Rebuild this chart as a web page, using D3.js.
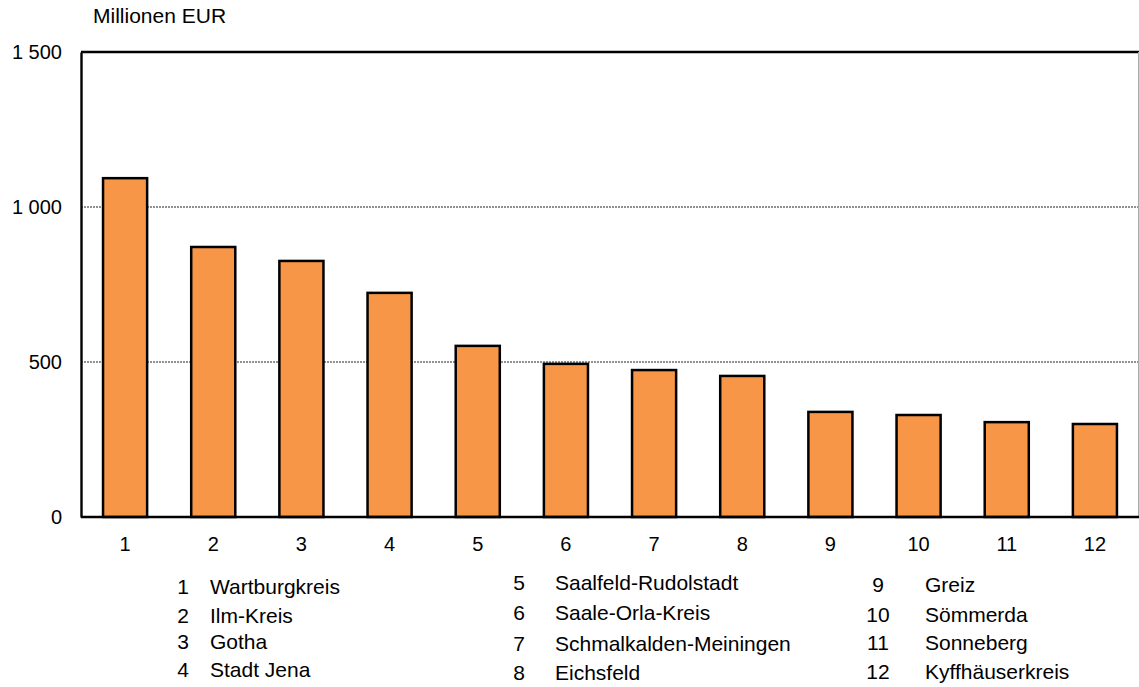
<!DOCTYPE html>
<html>
<head>
<meta charset="utf-8">
<script src="https://cdn.jsdelivr.net/npm/d3@7"></script>
<style>
  html, body { margin: 0; padding: 0; background: #fff; }
  svg { display: block; font-family: "Liberation Sans", Arial, sans-serif; }
</style>
</head>
<body>
<svg id="chart" width="1139" height="687"></svg>
<script>
// ---- data ----
const categories = ["1","2","3","4","5","6","7","8","9","10","11","12"];
const values = [1093, 871, 826, 723, 552, 494, 474, 455, 339, 329, 306, 300];
const names = ["Wartburgkreis","Ilm-Kreis","Gotha","Stadt Jena","Saalfeld-Rudolstadt","Saale-Orla-Kreis","Schmalkalden-Meiningen","Eichsfeld","Greiz","Sömmerda","Sonneberg","Kyffhäuserkreis"];
const yTicks = [0, 500, 1000, 1500];
const yTickLabels = ["0", "500", "1 000", "1 500"];
const unitLabel = "Millionen EUR";

// ---- layout ----
const svg = d3.select("#chart");
const pLeft = 81, pRight = 1139, pTop = 52, pBottom = 517;

const x = d3.scaleBand().domain(categories).range([pLeft, pRight]).paddingInner(0.5).paddingOuter(0.25);
const y = d3.scaleLinear().domain([0, 1500]).range([pBottom, pTop]);

// gridlines
svg.append("g").selectAll("line")
  .data(yTicks.filter(t => t > 0 && t < 1500))
  .join("line")
  .attr("x1", pLeft).attr("x2", pRight)
  .attr("y1", d => y(d)).attr("y2", d => y(d))
  .attr("stroke", "#222").attr("stroke-width", 1)
  .attr("stroke-dasharray", "2,1");

// top border & right border
svg.append("line").attr("x1", pLeft).attr("x2", pRight).attr("y1", y(1500)).attr("y2", y(1500))
  .attr("stroke", "#000").attr("stroke-width", 2.4);
svg.append("line").attr("x1", 1138.5).attr("x2", 1138.5).attr("y1", y(1500)).attr("y2", pBottom)
  .attr("stroke", "#aaa").attr("stroke-width", 1);

// bars
svg.append("g").selectAll("rect")
  .data(values)
  .join("rect")
  .attr("x", (d, i) => x(categories[i]))
  .attr("width", x.bandwidth())
  .attr("y", d => y(d))
  .attr("height", d => y(0) - y(d))
  .attr("fill", "#F79646")
  .attr("stroke", "#000")
  .attr("stroke-width", 2.5);

// y axis
const yAxis = d3.axisLeft(y).tickValues(yTicks).tickSize(0).tickPadding(19)
  .tickFormat((d, i) => yTickLabels[i]);
const gy = svg.append("g").attr("transform", `translate(${pLeft},0)`).call(yAxis);
gy.select(".domain").attr("stroke", "#000").attr("stroke-width", 2.4);
gy.selectAll("text").attr("font-size", 20).attr("fill", "#000")
  .attr("font-family", "'Liberation Sans', Arial, sans-serif");

// x axis
const xAxis = d3.axisBottom(x).tickSize(0).tickPadding(20);
const gx = svg.append("g").attr("transform", `translate(0,${pBottom})`).call(xAxis);
gx.select(".domain").attr("stroke", "#000").attr("stroke-width", 2.4).attr("d", `M${pLeft},0H${pRight}`);
gx.selectAll("text").attr("font-size", 20).attr("fill", "#000")
  .attr("font-family", "'Liberation Sans', Arial, sans-serif");

// unit label
svg.append("text").attr("x", 93).attr("y", 23).attr("font-size", 21).text(unitLabel);

// legend
const legCols = [
  { numX: 183, nameX: 210, rows: [587, 616, 642, 670] },
  { numX: 519, nameX: 555, rows: [583, 613, 644, 673] },
  { numX: 878, nameX: 925, rows: [585, 615, 643, 672] }
];
const leg = svg.append("g").attr("font-size", 21);
categories.forEach((c, i) => {
  const col = legCols[Math.floor(i / 4)];
  const ry = col.rows[i % 4];
  leg.append("text").attr("x", col.numX).attr("y", ry).attr("dy", "0.35em")
    .attr("text-anchor", "middle").text(c);
  leg.append("text").attr("x", col.nameX).attr("y", ry).attr("dy", "0.35em")
    .text(names[i]);
});
</script>
</body>
</html>
